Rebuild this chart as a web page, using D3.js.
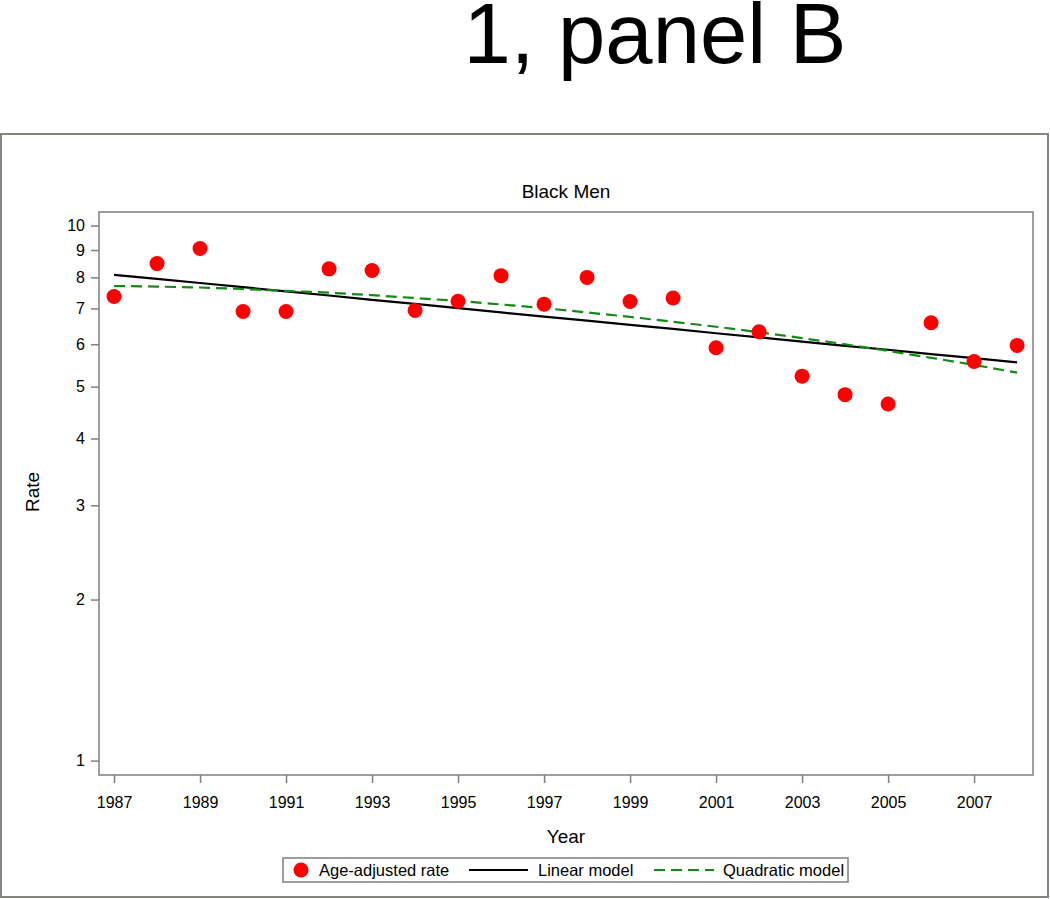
<!DOCTYPE html>
<html>
<head>
<meta charset="utf-8">
<script src="https://cdn.jsdelivr.net/npm/d3@7"></script>
<style>
  html, body { margin: 0; padding: 0; background: #fff; }
  svg { display: block; font-family: "Liberation Sans", Arial, sans-serif; }
</style>
</head>
<body>
<svg id="chart" width="1050" height="899"></svg>
<script>
// ---- data ----
const years = [1987,1988,1989,1990,1991,1992,1993,1994,1995,1996,1997,1998,1999,2000,2001,2002,2003,2004,2005,2006,2007,2008];
const ageAdjustedRate = [7.37,8.49,9.06,6.91,6.91,8.30,8.24,6.94,7.22,8.06,7.13,8.00,7.21,7.32,5.91,6.33,5.23,4.83,4.64,6.58,5.57,5.97];
const linearModel = [8.09,7.95,7.81,7.67,7.53,7.40,7.26,7.14,7.01,6.88,6.76,6.64,6.52,6.41,6.29,6.18,6.07,5.96,5.86,5.75,5.65,5.55];
const quadraticModel = [7.71,7.69,7.66,7.61,7.55,7.49,7.41,7.32,7.23,7.12,7.01,6.88,6.75,6.61,6.47,6.32,6.16,6.00,5.83,5.66,5.49,5.31];
const xTicks = [1987,1989,1991,1993,1995,1997,1999,2001,2003,2005,2007];
const yTicks = [1,2,3,4,5,6,7,8,9,10];
const legendLabels = ["Age-adjusted rate","Linear model","Quadratic model"];

const svg = d3.select("#chart");
const frameColor = "#7f7f7f";

// big heading
svg.append("text").attr("x", 655).attr("y", 63).attr("text-anchor", "middle")
  .attr("font-size", 85).attr("fill", "#000").text("1, panel B");

// outer frame
svg.append("rect").attr("x", 1).attr("y", 134).attr("width", 1047).attr("height", 763)
  .attr("fill", "none").attr("stroke", "#85857d").attr("stroke-width", 2);

// plot area
const L = 99, R = 1033, T = 212, B = 775;
const x = d3.scaleLinear().domain([1986.65, 2008.37]).range([L, R]);
const y = d3.scaleLog().domain([0.94, 10.6]).range([B, T]);

// chart title
svg.append("text").attr("x", 566).attr("y", 198).attr("text-anchor", "middle")
  .attr("font-size", 19).attr("fill", "#000").text("Black Men");

// axes
const xAxis = svg.append("g").attr("transform", `translate(0,${B})`)
  .call(d3.axisBottom(x).tickValues(xTicks).tickFormat(d3.format("d")).tickSize(8).tickPadding(14));
const yAxis = svg.append("g").attr("transform", `translate(${L},0)`)
  .call(d3.axisLeft(y).tickValues(yTicks).tickFormat(d3.format("d")).tickSize(8).tickPadding(6));
[xAxis, yAxis].forEach(g => {
  g.select(".domain").remove();
  g.selectAll("line").attr("stroke", frameColor).attr("stroke-width", 1.5);
  g.selectAll("text").attr("font-size", 16).attr("fill", "#000")
    .attr("font-family", "'Liberation Sans', Arial, sans-serif");
});

// plot frame
svg.append("rect").attr("x", L).attr("y", T).attr("width", R - L).attr("height", B - T)
  .attr("fill", "none").attr("stroke", frameColor).attr("stroke-width", 1.5);

// axis labels
svg.append("text").attr("x", 566).attr("y", 843).attr("text-anchor", "middle")
  .attr("font-size", 19).attr("fill", "#000").text("Year");
svg.append("text").attr("transform", "translate(39,492) rotate(-90)").attr("text-anchor", "middle")
  .attr("font-size", 19).attr("fill", "#000").text("Rate");

// model lines
const line = d3.line().x(d => x(d[0])).y(d => y(d[1]));
svg.append("path").datum(years.map((yr, i) => [yr, linearModel[i]]))
  .attr("d", line).attr("fill", "none").attr("stroke", "#000").attr("stroke-width", 2.2);
svg.append("path").datum(years.map((yr, i) => [yr, quadraticModel[i]]))
  .attr("d", line).attr("fill", "none").attr("stroke", "#138a13").attr("stroke-width", 2.2)
  .attr("stroke-dasharray", "11,6");

// points
svg.append("g").selectAll("circle").data(years.map((yr, i) => [yr, ageAdjustedRate[i]]))
  .join("circle").attr("cx", d => x(d[0])).attr("cy", d => y(d[1])).attr("r", 7.5).attr("fill", "#ff0000");

// legend
const lg = svg.append("g");
lg.append("rect").attr("x", 283).attr("y", 858).attr("width", 565).attr("height", 24)
  .attr("fill", "#fff").attr("stroke", frameColor).attr("stroke-width", 1.5);
lg.append("circle").attr("cx", 301).attr("cy", 870).attr("r", 7.5).attr("fill", "#ff0000");
lg.append("text").attr("x", 319).attr("y", 876).attr("font-size", 16.5).text(legendLabels[0]);
lg.append("line").attr("x1", 469).attr("x2", 528).attr("y1", 870).attr("y2", 870)
  .attr("stroke", "#000").attr("stroke-width", 2);
lg.append("text").attr("x", 538).attr("y", 876).attr("font-size", 16.5).text(legendLabels[1]);
lg.append("line").attr("x1", 654).attr("x2", 714).attr("y1", 870).attr("y2", 870)
  .attr("stroke", "#138a13").attr("stroke-width", 2).attr("stroke-dasharray", "11,6");
lg.append("text").attr("x", 723).attr("y", 876).attr("font-size", 16.5).text(legendLabels[2]);
</script>
</body>
</html>
